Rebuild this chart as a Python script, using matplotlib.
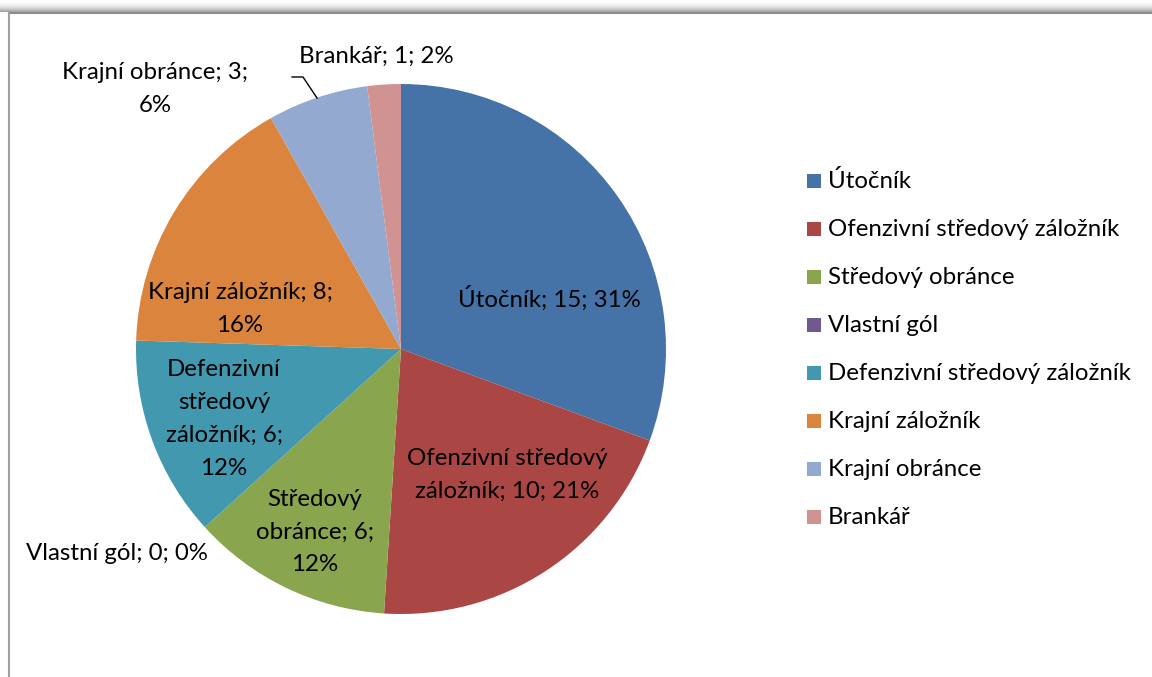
import numpy as np
import matplotlib
matplotlib.use("Agg")
from matplotlib import pyplot as plt
from matplotlib.patches import Rectangle

# data
categories = ['Útočník', 'Ofenzivní středový záložník', 'Středový obránce', 'Vlastní gól',
              'Defenzivní středový záložník', 'Krajní záložník', 'Krajní obránce', 'Brankář']
goals = [15, 10, 6, 0, 6, 8, 3, 1]
percents = [31, 21, 12, 0, 12, 16, 6, 2]
label_texts = ['Útočník; 15; 31%', 'Ofenzivní středový\nzáložník; 10; 21%',
               'Středový\nobránce; 6;\n12%', 'Vlastní gól; 0; 0%',
               'Defenzivní\nstředový\nzáložník; 6;\n12%', 'Krajní záložník; 8;\n16%',
               'Krajní obránce; 3;\n6%', 'Brankář; 1; 2%']
colors = ['#4572A7', '#AA4643', '#89A54E', '#71588F', '#4198AF', '#DB843D', '#93A9CF', '#D19392']

# layout in pixels (origin at top-left)
W, H = 1152, 677
label_pos = [(549, 298), (507, 475), (315, 532), (117, 553),
             (224, 419), (240, 309), (155, 89), (376, 56)]

plt.rcParams['font.family'] = ['Lato', 'DejaVu Sans']
FS = 17.3

fig = plt.figure(figsize=(W / 100, H / 100), dpi=100)
ax = fig.add_axes([0, 0, 1, 1])

# chart frame with shadow on top
for i in range(12):
    g = 1 - 0.35 * (i / 11) ** 2
    ax.add_patch(Rectangle((0, H - 1 - i), W, 1, color=(g, g, g), lw=0, zorder=0))
ax.plot([9, W], [H - 13, H - 13], color='#8c8c8c', lw=1.5, zorder=1)
ax.plot([9, 9], [H - 13, 0], color='#a0a0a0', lw=1.5, zorder=1)

cx, cy, r = 401, H - 349, 265
ax.pie(goals, colors=colors, startangle=90, counterclock=False,
       center=(cx, cy), radius=r, wedgeprops=dict(linewidth=0))

for txt, (px, py) in zip(label_texts, label_pos):
    ax.text(px, H - py, txt, ha='center', va='center', fontsize=FS,
            color='black', linespacing=1.7)

# leader line for Krajní obránce
ax.plot([292, 303, 317], [H - 77, H - 77, H - 98], color='black', lw=1)

# legend
for i, (cat, col) in enumerate(zip(categories, colors)):
    y = H - (181 + 48 * i)
    ax.add_patch(Rectangle((807, y - 7), 14, 14, color=col, lw=0))
    ax.text(828, y, cat, ha='left', va='center', fontsize=FS, color='black')

ax.set_xlim(0, W)
ax.set_ylim(0, H)
ax.set_aspect('auto')
ax.axis('off')

fig.savefig('out.png', dpi=100)
